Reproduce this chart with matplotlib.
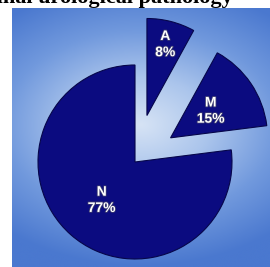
import matplotlib
matplotlib.use("Agg")
import matplotlib.pyplot as plt
import matplotlib.patheffects as pe
import numpy as np
from matplotlib.colors import LinearSegmentedColormap

# data
categories = ["N", "M", "A"]
shares = [77, 15, 8]
pct_labels = ["77%", "15%", "8%"]
explode = [0, 43, 48]           # in pixels (axes use pixel units)
label_frac = [0.52, 0.5, 0.76]  # label distance as fraction of radius

W, H = 270, 267
fig = plt.figure(figsize=(W / 100, H / 100), dpi=100)
fig.patch.set_facecolor("white")

# gradient panel behind the pie
bg = fig.add_axes([12 / W, 0, (W - 12) / W, (H - 8) / H])
yy, xx = np.mgrid[0:1:200j, 0:1:200j]
d = np.sqrt(((xx - 0.5) / 0.8) ** 2 + ((yy - 0.45) / 0.55) ** 2)
cmap = LinearSegmentedColormap.from_list(
    "panel", ["#d6e3f5", "#abc5ec", "#7199dd", "#4a78cf"])
bg.imshow(np.clip(d, 0, 1), cmap=cmap, aspect="auto", vmin=0, vmax=1,
          interpolation="bicubic")
bg.axis("off")

# pie in pixel coordinates
ax = fig.add_axes([0, 0, 1, 1])
ax.patch.set_alpha(0)
cx, cy, r = 135, H - 162, 97
wedges, _ = ax.pie(shares, explode=explode, startangle=90, counterclock=True,
                   center=(cx, cy), radius=r, colors=["#0b0b80"] * 3,
                   wedgeprops=dict(edgecolor="#06064a", linewidth=0.8),
                   frame=True)
ax.set_xlim(0, W)
ax.set_ylim(0, H)
ax.set_aspect("auto")
ax.axis("off")

for w, cat, pct, f in zip(wedges, categories, pct_labels, label_frac):
    ang = np.deg2rad((w.theta1 + w.theta2) / 2)
    x0, y0 = w.center
    ax.text(x0 + f * r * np.cos(ang), y0 + f * r * np.sin(ang),
            f"{cat}\n{pct}", ha="center", va="center", color="white",
            fontsize=10, fontweight="bold", family="Liberation Sans",
            linespacing=1.2,
            path_effects=[pe.withStroke(linewidth=1.2, foreground="#3a3a70")])

# title, mostly cut off at the top edge as in the source image
fig.text(233 / W, 1 - 3 / H, "Final urological pathology", ha="right",
         va="baseline", fontsize=16, fontweight="bold",
         family="Liberation Serif", color="black")

fig.savefig("out.png", dpi=100)
